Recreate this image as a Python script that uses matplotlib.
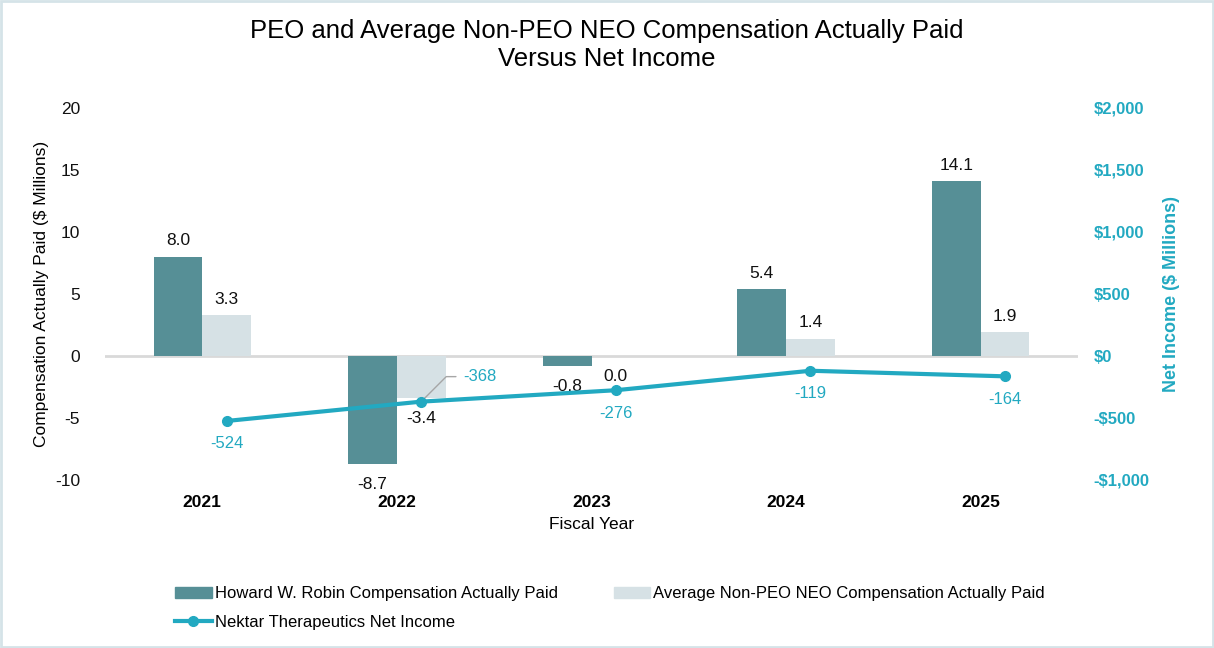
import matplotlib
matplotlib.use("Agg")
from matplotlib import pyplot as plt
from matplotlib.patches import Patch, Rectangle
from matplotlib.lines import Line2D
import numpy as np

plt.rcParams['font.family'] = ['Liberation Sans', 'DejaVu Sans']
plt.rcParams['axes.unicode_minus'] = False

years = ["2021", "2022", "2023", "2024", "2025"]
peo_cap = [8.0, -8.7, -0.8, 5.4, 14.1]
neo_cap = [3.3, -3.4, 0.0, 1.4, 1.9]
net_income = [-524, -368, -276, -119, -164]

dark = "#568f96"
light = "#d6e1e5"
teal = "#22a9c1"

fig = plt.figure(figsize=(12.14, 6.48), dpi=100)
ax = fig.add_axes([105 / 1214, 1 - 480 / 648, 973 / 1214, 372 / 648])
ax2 = ax.twinx()

x = np.arange(len(years))
w = 0.25
ax.bar(x - w / 2, peo_cap, w, color=dark, zorder=2)
ax.bar(x + w / 2, neo_cap, w, color=light, zorder=2)
ax.axhline(0, color="#d9d9d9", lw=2, zorder=1)

# bar labels: above for positive, below for zero/negative
for xs, vals in ((x - w / 2, peo_cap), (x + w / 2, neo_cap)):
    for xi, v in zip(xs, vals):
        if v > 0:
            ax.annotate(f"{v:.1f}", (xi, v), xytext=(0, 6), textcoords="offset points",
                        ha="center", va="bottom", fontsize=12.5, color="#111111")
        else:
            ax.annotate(f"{v:.1f}", (xi, v), xytext=(0, -9.5), textcoords="offset points",
                        ha="center", va="top", fontsize=12.5, color="#111111")

ax2.plot(x + w / 2, net_income, color=teal, lw=3, marker="o", markersize=7, zorder=5)
for i, (xi, v) in enumerate(zip(x + w / 2, net_income)):
    if i == 1:
        ax2.annotate(f"{v:,}", (xi, v), xytext=(30, 18), textcoords="offset points",
                     ha="left", va="center", fontsize=12, color=teal,
                     arrowprops=dict(arrowstyle="-", color="#a6a6a6", lw=1,
                                     connectionstyle="angle,angleA=0,angleB=45,rad=0",
                                     shrinkA=3, shrinkB=2))
    else:
        ax2.annotate(f"{v:,}", (xi, v), xytext=(0, -11), textcoords="offset points",
                     ha="center", va="top", fontsize=12, color=teal)

ax.set_xlim(-0.5, 4.5)
ax.set_ylim(-10, 20)
ax.set_yticks(np.arange(-10, 21, 5))
ax2.set_ylim(-1000, 2000)
ax2.set_yticks(np.arange(-1000, 2001, 500))
ax2.set_yticklabels([f"-${abs(t):,}" if t < 0 else f"${t:,}" for t in np.arange(-1000, 2001, 500)])

ax.set_xticks(x)
ax.set_xticklabels(years, fontweight="bold", fontsize=12.5)

for a in (ax, ax2):
    for s in a.spines.values():
        s.set_visible(False)
    a.tick_params(length=0)

ax.tick_params(axis="y", labelsize=12.5, pad=18, colors="#111111")
ax.tick_params(axis="x", pad=11)
ax2.tick_params(axis="y", labelsize=12, pad=11, labelcolor=teal)
for t in ax2.get_yticklabels():
    t.set_fontweight("bold")

ax.set_ylabel("Compensation Actually Paid ($ Millions)", fontsize=12.5, labelpad=4)
ax2.set_ylabel("Net Income ($ Millions)", fontsize=13, fontweight="bold", color=teal, labelpad=10)
ax.set_xlabel("Fiscal Year", fontsize=12.5, labelpad=5)

fig.suptitle("PEO and Average Non-PEO NEO Compensation Actually Paid\nVersus Net Income",
             fontsize=18.5, y=0.97, x=0.5, linespacing=1.2)

h_peo = Patch(color=dark)
h_neo = Patch(color=light)
h_ni = Line2D([0], [0], color=teal, lw=3, marker="o", markersize=7)
# column-major fill: col1 = PEO, net income; col2 = NEO
fig.legend([h_peo, h_ni, h_neo],
           ["Howard W. Robin Compensation Actually Paid",
            "Nektar Therapeutics Net Income",
            "Average Non-PEO NEO Compensation Actually Paid"],
           loc="center", bbox_to_anchor=(610 / 1214, 1 - 608 / 648), ncol=2,
           frameon=False, fontsize=12, handlelength=2.2, handleheight=0.6,
           handletextpad=0.18, columnspacing=3.35, labelspacing=0.8, borderpad=0)

fig.patches.append(Rectangle((0.001, 0.001), 0.998, 0.998, transform=fig.transFigure,
                             fill=False, edgecolor="#d5e3e8", lw=2))

plt.savefig("out.png", dpi=100)
